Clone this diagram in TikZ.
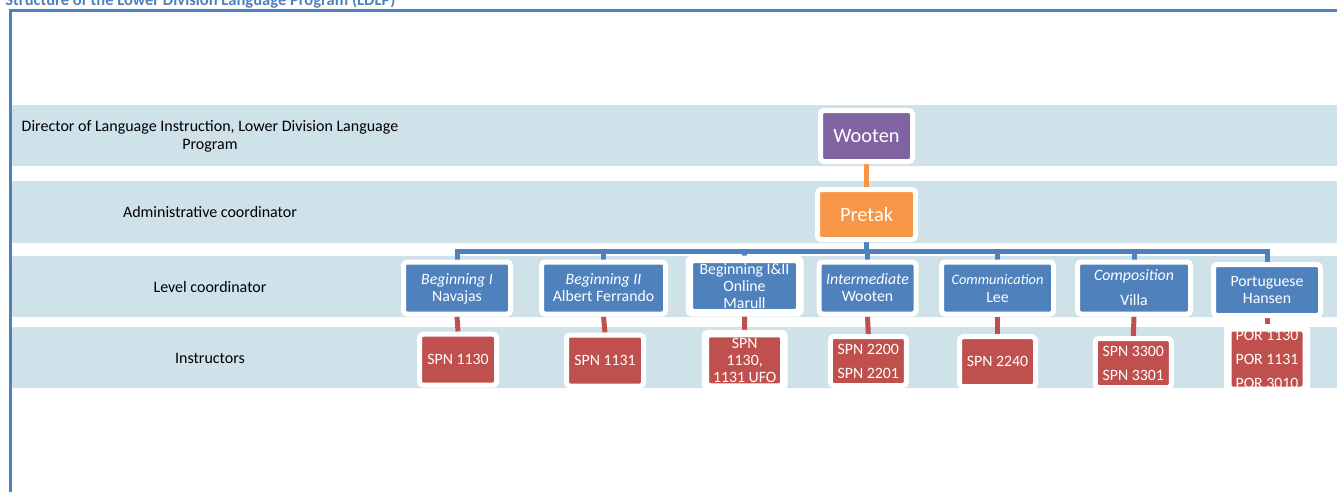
\documentclass[tikz,border=0pt]{standalone}
\usepackage{fontspec}
\setmainfont{Carlito}
\usetikzlibrary{backgrounds}

\definecolor{lanebg}{RGB}{208,226,233}
\definecolor{accblue}{RGB}{79,129,189}
\definecolor{accred}{RGB}{192,80,77}
\definecolor{accorange}{RGB}{247,150,70}
\definecolor{accpurple}{RGB}{128,100,162}

% text centred in a box of fixed size, may run over its edges
\newcommand{\inbox}[1]{\vbox to 0pt{\vss\hbox{\begin{tabular}{@{}c@{}}#1\end{tabular}}\vss\kern-2pt}}

\begin{document}
\begin{tikzpicture}[
    x=0.02cm, y=-0.02cm,
    every node/.style={font=\fontsize{9.1}{10.2}\selectfont},
    sz/.style 2 args={minimum width=#1*0.02cm, minimum height=#2*0.02cm},
    unit/.style={draw=white, line width=0.1cm, rounded corners=0.07cm, inner sep=0pt, text=white},
    head/.style={unit, font=\fontsize{11.6}{14}\selectfont},
    lvl/.style={unit, fill=accblue, font=\fontsize{9}{9.6}\selectfont},
    crs/.style={unit, fill=accred, font=\fontsize{9}{9.6}\selectfont},
    lane/.style={fill=lanebg, rounded corners=0.04cm},
    tree/.style={draw=accblue, line width=0.1cm},
    link/.style={draw=accred, line width=0.1cm}
]
\useasboundingbox (0,0) rectangle (1337,491);
\clip (0,0) rectangle (1337,491);

% title and frame
\node[anchor=base west, inner sep=0pt, text=accblue,
      font=\bfseries\fontsize{9.4}{11}\selectfont] (title) at (5,5)
    {Structure of the Lower Division Language Program (LDLP)};
\draw[accblue, line width=0.045cm] (10.5,495) -- (10.5,10.5) -- (1345,10.5);

% lane labels
\node[align=center] (l1) at (210,136) {Director of Language Instruction, Lower Division Language\\Program};
\node (l2) at (210,212) {Administrative coordinator};
\node (l3) at (210,287) {Level coordinator};
\node (l4) at (210,358) {Instructors};

% heads
\node[head, fill=accpurple, sz={92}{51}] (wooten) at (866.5,136) {\inbox{Wooten}};
\node[head, fill=accorange, sz={98}{50}] (pretak) at (866.5,214.5) {\inbox{Pretak}};

% level coordinators
\node[lvl, sz={107}{52}] (b1) at (457,288)   {\inbox{\textit{Beginning I}\\Navajas}};
\node[lvl, sz={124}{52}] (b2) at (603.5,288) {\inbox{\textit{Beginning II}\\Albert Ferrando}};
\node[lvl, sz={108}{51}] (b3) at (744.5,286) {\inbox{Beginning I\&II\\Online\\Marull}};
\node[lvl, sz={97}{52}]  (b4) at (867.5,288) {\inbox{\textit{Intermediate}\\Wooten}};
\node[lvl, sz={112}{52}] (b5) at (997.5,288) {\inbox{{\fontsize{8.2}{9.6}\selectfont\itshape Communication}\\[0.6pt]Lee}};
\node[lvl, sz={113}{52}] (b6) at (1134,288)  {\inbox{\textit{Composition}\\[5pt]Villa}};
\node[lvl, sz={107}{51}] (b7) at (1267,290)  {\inbox{Portuguese\\Hansen}};

% instructors
\node[crs, sz={77}{51}] (r1) at (458,359.7)    {\inbox{SPN 1130}};
\node[crs, sz={77}{51}] (r2) at (605,360.5)    {\inbox{SPN 1131}};
\node[crs, sz={76}{51}] (r3) at (744.7,360.3)  {\inbox{SPN\\1130,\\1131 UFO}};
\node[crs, sz={76}{49}] (r4) at (868.3,361)    {\inbox{SPN 2200\\[4pt]SPN 2201}};
\node[crs, sz={76}{50}] (r5) at (997.5,361.7)  {\inbox{SPN 2240}};
\node[crs, sz={76}{49}] (r6) at (1133.3,363)   {\inbox{SPN 3300\\[4pt]SPN 3301}};
\node[crs, sz={76}{60}] (r7) at (1267,359)     {\inbox{POR 1130\\[4pt]POR 1131\\[4pt]POR 3010}};

% text running over the box edge is hidden by the rim
\foreach \n in {b3,r3,r7}
    \draw[white, line width=0.1cm, rounded corners=0.07cm] (\n.south west) rectangle (\n.north east);

\coordinate (bar) at (866.5,251);

\begin{pgfonlayer}{background}
    % lanes
    \fill[lane] (12,105) rectangle (1350,166);
    \fill[lane] (12,181) rectangle (1350,243);
    \fill[lane] (12,256) rectangle (1350,317);
    \fill[lane] (12,327) rectangle (1350,388);

    \draw[draw=accorange, line width=0.1cm] (wooten.south) -- (pretak.north);
    \foreach \c in {b1,b2,b3,b4,b5,b6,b7}
        \draw[tree] (pretak.south) -- (pretak.south |- bar) -| (\c.north);
    \foreach \a/\b in {b1/r1,b2/r2,b3/r3,b4/r4,b5/r5,b6/r6,b7/r7}
        \draw[link] (\a.south) -- (\b.north);
\end{pgfonlayer}

\end{tikzpicture}
\end{document}
